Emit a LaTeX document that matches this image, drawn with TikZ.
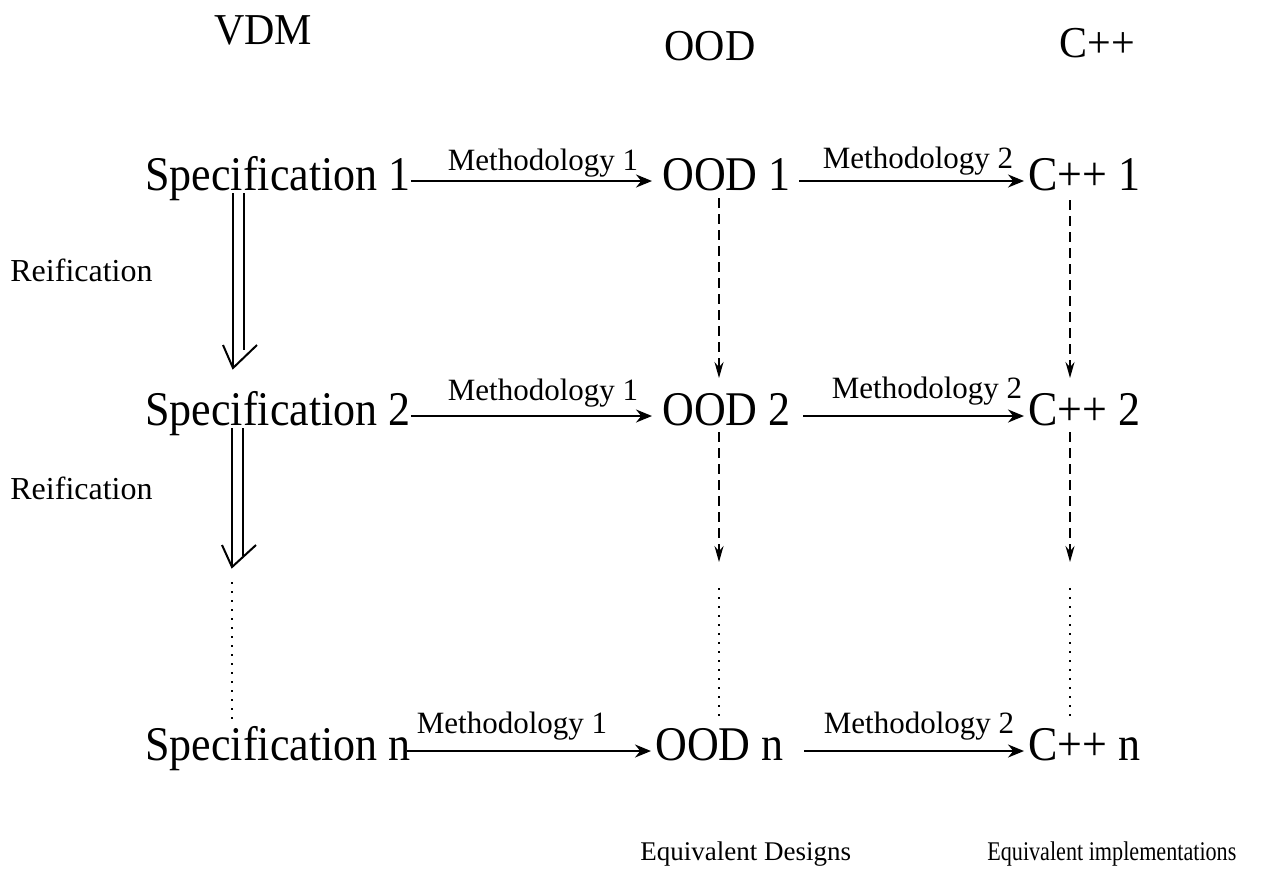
\documentclass[tikz,border=0pt]{standalone}
\usepackage{fontspec}
\setmainfont{Liberation Serif}
\usetikzlibrary{arrows.meta}
\begin{document}
\begin{tikzpicture}[x=0.5pt,y=-0.5pt,
  big/.style={font=\fontsize{22pt}{26pt}\selectfont, inner sep=0pt, anchor=base west, yscale=1.1},
  head/.style={font=\fontsize{21pt}{25pt}\selectfont, inner sep=0pt, anchor=base, yscale=1.05},
  lbl/.style={font=\fontsize{15.5pt}{18pt}\selectfont, inner sep=0pt, anchor=base},
  side/.style={font=\fontsize{16pt}{19pt}\selectfont, inner sep=0pt, anchor=base west},
  captext/.style={font=\fontsize{13.5pt}{16pt}\selectfont, inner sep=0pt, anchor=base west},
  harrow/.style={line width=1pt, -{Stealth[length=8pt,width=6.5pt]}},
  varrow/.style={line width=1pt, dash pattern=on 5pt off 3pt, -{Stealth[length=8pt,width=4.5pt]}},
  dotline/.style={line width=1.1pt, dash pattern=on 1pt off 3.5pt},
  dbl/.style={line width=1pt},
]
\useasboundingbox (0,0) rectangle (1261,880);

% column headings
\node[head] (hv) at (263,44) {VDM};
\node[head] (ho) at (710,60) {OOD};
\node[head] (hc) at (1097,57) {C++};

% rows of specifications, designs and implementations
\node[big] (s1) at (145,190) {Specification 1};
\node[big] (o1) at (662,190) {OOD 1};
\node[big] (c1) at (1028,190) {C++ 1};

\node[big] (s2) at (145,425) {Specification 2};
\node[big] (o2) at (662,425) {OOD 2};
\node[big] (c2) at (1028,425) {C++ 2};

\node[big] (sn) at (145,760) {Specification n};
\node[big] (on) at (655,760) {OOD n};
\node[big] (cn) at (1028,760) {C++ n};

% methodology arrows
\draw[harrow] ([yshift=4.5pt]s1.base east) -- ([yshift=4.5pt,xshift=-5pt]o1.base west);
\draw[harrow] ([yshift=4.5pt,xshift=4pt]o1.base east) -- ([yshift=4.5pt,xshift=-2pt]c1.base west);
\draw[harrow] ([yshift=4.5pt]s2.base east) -- ([yshift=4.5pt,xshift=-5pt]o2.base west);
\draw[harrow] ([yshift=4.5pt,xshift=6pt]o2.base east) -- ([yshift=4.5pt,xshift=-2pt]c2.base west);
\draw[harrow] ([yshift=4.5pt,xshift=-2pt]sn.base east) -- ([yshift=4.5pt,xshift=-2pt]on.base west);
\draw[harrow] ([yshift=4.5pt,xshift=10pt]on.base east) -- ([yshift=4.5pt,xshift=-2pt]cn.base west);

\node[lbl] (m11) at (543,170) {Methodology 1};
\node[lbl] (m12) at (918,168) {Methodology 2};
\node[lbl] (m21) at (543,400) {Methodology 1};
\node[lbl] (m22) at (927,398) {Methodology 2};
\node[lbl] (mn1) at (512,733) {Methodology 1};
\node[lbl] (mn2) at (919,733) {Methodology 2};

% reification (double arrows) down the VDM column
\node[side] (r1) at (10,281) {Reification};
\node[side] (r2) at (10,499) {Reification};

\coordinate (va1) at (233,193);
\coordinate (vb1) at (244,193);
\coordinate (vt1) at (233,368);
\coordinate (va2) at (232,428);
\coordinate (vb2) at (243,428);
\coordinate (vt2) at (232,567);
\draw[dbl] (va1) -- (vt1) (vb1) -- (244,350);
\draw[dbl] ([shift={(-10,-23)}]vt1) -- (vt1) -- ([shift={(24,-23)}]vt1);
\draw[dbl] (va2) -- (vt2) (vb2) -- (243,556);
\draw[dbl] ([shift={(-10,-22)}]vt2) -- (vt2) -- ([shift={(24,-22)}]vt2);
\draw[dotline] (232,582) -- (232,720);

% equivalence arrows down the OOD and C++ columns
\coordinate (oa1) at (719,198);
\coordinate (ob1) at (719,378);
\coordinate (oa2) at (719,432);
\coordinate (ob2) at (719,562);
\draw[varrow] (oa1) -- (ob1);
\draw[varrow] (oa2) -- (ob2);
\draw[dotline] (719,588) -- (719,722);

\coordinate (ca1) at (1070,200);
\coordinate (cb1) at (1070,378);
\coordinate (ca2) at (1070,432);
\coordinate (cb2) at (1070,562);
\draw[varrow] (ca1) -- (cb1);
\draw[varrow] (ca2) -- (cb2);
\draw[dotline] (1070,588) -- (1070,722);

% captions
\node[captext] (eqd) at (640,860) {Equivalent Designs};
\node[captext, xscale=0.82] (eqi) at (987,860) {Equivalent implementations};
\end{tikzpicture}
\end{document}
